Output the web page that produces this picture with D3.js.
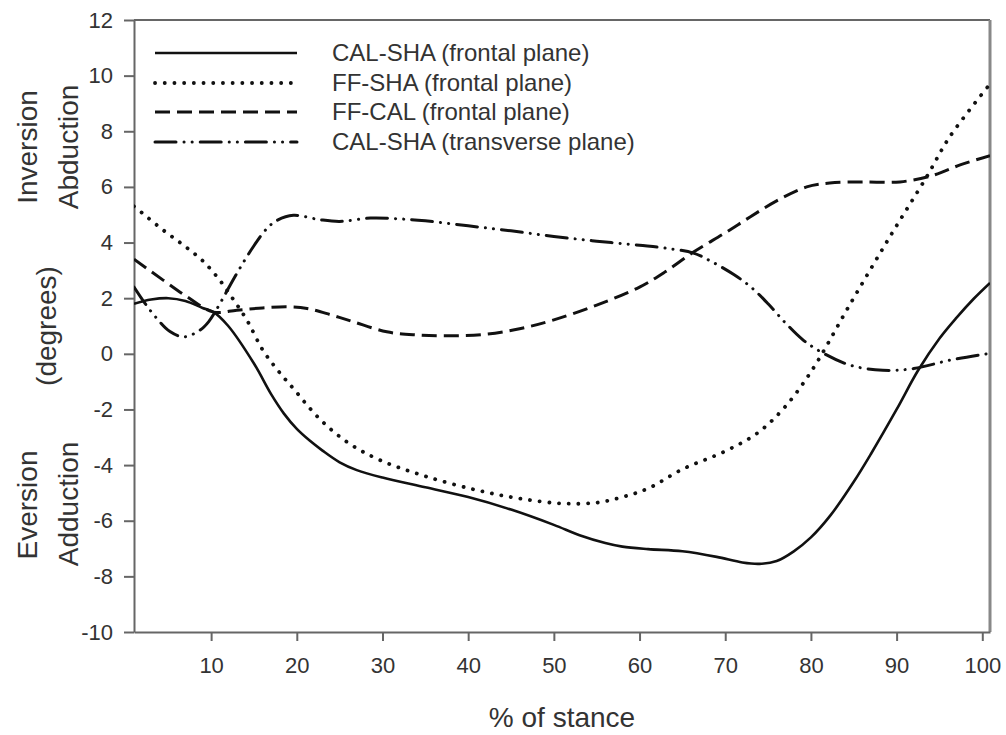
<!DOCTYPE html>
<html>
<head>
<meta charset="utf-8">
<script src="https://cdn.jsdelivr.net/npm/d3@7"></script>
<style>
  html, body { margin: 0; padding: 0; background: #fff; }
  svg { display: block; font-family: "Liberation Sans", Arial, sans-serif; }
</style>
</head>
<body>
<svg id="chart" width="1006" height="735"></svg>
<script>
// ---- Data ----
const xTicks = [10, 20, 30, 40, 50, 60, 70, 80, 90, 100];
const yTicks = [-10, -8, -6, -4, -2, 0, 2, 4, 6, 8, 10, 12];

const calShaFrontal = [
  [1, 1.8], [3, 1.95], [5, 2.0], [7, 1.9], [9, 1.65], [10.3, 1.5], [12, 1.0], [15, -0.35],
  [17, -1.45], [18.5, -2.15], [20, -2.7], [21.5, -3.12], [23, -3.48], [25, -3.9], [27, -4.18],
  [30, -4.45], [35, -4.8],
  [40, -5.15], [45, -5.6], [50, -6.15], [53, -6.52], [56, -6.8], [58, -6.93], [61, -7.02], [65, -7.1],
  [69, -7.3], [72, -7.5], [74, -7.55], [76, -7.45], [78, -7.1], [80, -6.6], [82.3, -5.8],
  [85, -4.6], [87, -3.6], [90, -2.0], [92.5, -0.6], [95, 0.55], [97, 1.3], [99, 1.98], [100.9, 2.55]
];
const ffShaFrontal = [
  [1, 5.3], [2, 5.05], [4.4, 4.45], [6.8, 3.9], [9, 3.35], [11, 2.65], [12.6, 1.95], [14.2, 1.2],
  [16, 0.15], [17.8, -0.6], [19.6, -1.25], [22.7, -2.35], [26, -3.2], [29.7, -3.82], [35, -4.4],
  [41, -4.9], [46, -5.2], [51, -5.38], [55, -5.35], [58, -5.15], [61, -4.84], [65, -4.15],
  [70, -3.5], [73.7, -2.86], [76.8, -1.97], [80, -0.65], [84.6, 1.8], [89.2, 4.2], [93.5, 6.36],
  [96.2, 7.8], [100.9, 9.7]
];
const ffCalFrontal = [
  [1, 3.4], [4.4, 2.65], [7.2, 2.05], [10.3, 1.5], [13, 1.57], [16, 1.65], [19, 1.69], [21.2, 1.63],
  [24, 1.4], [26.6, 1.15], [30.5, 0.79], [34, 0.68], [38, 0.65], [42, 0.7], [46, 0.9], [50, 1.22],
  [55, 1.75], [60, 2.4], [63, 2.95], [66.3, 3.66], [70, 4.35], [72.9, 4.92], [76, 5.5], [79.5, 6.0],
  [82.2, 6.14], [86, 6.18], [90.4, 6.18], [94.3, 6.42], [97.5, 6.8], [100.9, 7.12]
];
const calShaTransverse = [
  [1, 2.4], [2.2, 1.85], [3.5, 1.33], [5.2, 0.8], [6.8, 0.61], [8.7, 0.85], [9.7, 1.15], [10.7, 1.63],
  [13, 2.89], [14.9, 3.84], [16.5, 4.5], [17.7, 4.8], [19.6, 4.98], [22.7, 4.82], [25, 4.76],
  [28.6, 4.88], [32, 4.85], [35, 4.78], [40, 4.6], [45, 4.42], [50, 4.22], [55, 4.05], [60, 3.9],
  [63, 3.8], [66.3, 3.62], [68.5, 3.3], [71, 2.85], [73, 2.4], [75, 1.8], [77, 1.12], [79, 0.52],
  [81, 0.1], [84.6, -0.41], [88.4, -0.59], [92, -0.53], [96.2, -0.23], [100.9, 0.02]
];

const seriesNames = [
  "CAL-SHA (frontal plane)",
  "FF-SHA (frontal plane)",
  "FF-CAL (frontal plane)",
  "CAL-SHA (transverse plane)"
];
const seriesData = [calShaFrontal, ffShaFrontal, ffCalFrontal, calShaTransverse];

// ---- Styles ----
const styles = [
  { dash: null, width: 2.6, cap: "butt" },
  { dash: "0.1 9.6", width: 3.8, cap: "round" },
  { dash: "15 7", width: 3, cap: "butt" },
  { dash: "21 8 0.1 8 0.1 8", width: 3, cap: "round" }
];

const svg = d3.select("#chart");
const mLeft = 134, mRight = 990, mTop = 20, mBottom = 632;

const x = d3.scaleLinear().domain([1, 100.9]).range([mLeft, mRight]);
const y = d3.scaleLinear().domain([-10, 12]).range([mBottom, mTop]);

const axisColor = "#666";
const textColor = "#333";

// Frame top and right
svg.append("line").attr("x1", mLeft).attr("x2", mRight).attr("y1", mTop).attr("y2", mTop)
  .attr("stroke", axisColor).attr("stroke-width", 2);
svg.append("line").attr("x1", mRight).attr("x2", mRight).attr("y1", mTop).attr("y2", mBottom)
  .attr("stroke", "#888").attr("stroke-width", 3);

// Axes
const fmt = d => String(d);
const xAxis = svg.append("g").attr("transform", `translate(0,${mBottom})`)
  .call(d3.axisBottom(x).tickValues(xTicks).tickFormat(fmt).tickSize(9).tickSizeOuter(0).tickPadding(16));
const yAxis = svg.append("g").attr("transform", `translate(${mLeft},0)`)
  .call(d3.axisLeft(y).tickValues(yTicks).tickFormat(fmt).tickSize(10).tickSizeOuter(0).tickPadding(11));

[xAxis, yAxis].forEach(g => {
  g.select(".domain").attr("stroke", axisColor).attr("stroke-width", 2);
  g.selectAll(".tick line").attr("stroke", axisColor).attr("stroke-width", 2);
  g.selectAll(".tick text").attr("fill", textColor)
    .style("font-size", "22px").style("font-family", "'Liberation Sans', Arial, sans-serif");
});

// Lines
svg.append("clipPath").attr("id", "plotclip")
  .append("rect").attr("x", mLeft).attr("y", mTop).attr("width", mRight - mLeft).attr("height", mBottom - mTop);

const line = d3.line().x(d => x(d[0])).y(d => y(d[1])).curve(d3.curveCatmullRom.alpha(0.5));

const plot = svg.append("g").attr("clip-path", "url(#plotclip)");
seriesData.forEach((data, i) => {
  const s = styles[i];
  const p = plot.append("path").datum(data)
    .attr("d", line)
    .attr("fill", "none")
    .attr("stroke", "#111")
    .attr("stroke-width", s.width)
    .attr("stroke-linecap", s.cap)
    .attr("stroke-linejoin", "round");
  if (s.dash) p.attr("stroke-dasharray", s.dash);
});

// Legend
const legendY = [53, 83, 112, 142];
seriesNames.forEach((name, i) => {
  const s = styles[i];
  const l = svg.append("line")
    .attr("x1", 155).attr("x2", 297).attr("y1", legendY[i]).attr("y2", legendY[i])
    .attr("stroke", "#111").attr("stroke-width", s.width).attr("stroke-linecap", s.cap);
  if (s.dash) l.attr("stroke-dasharray", s.dash);
  svg.append("text").attr("x", 332).attr("y", legendY[i]).attr("dy", "0.35em")
    .attr("fill", textColor).style("font-size", "24px").text(name);
});

// Axis titles
svg.append("text").attr("x", 562).attr("y", 727).attr("text-anchor", "middle")
  .attr("fill", textColor).style("font-size", "28px").text("% of stance");

const yTitles = [
  { t: "Inversion", x: 37, y: 147 },
  { t: "Abduction", x: 78, y: 147 },
  { t: "(degrees)", x: 56, y: 326 },
  { t: "Eversion", x: 37, y: 505 },
  { t: "Adduction", x: 78, y: 504 }
];
yTitles.forEach(d => {
  svg.append("text")
    .attr("transform", `translate(${d.x},${d.y}) rotate(-90)`)
    .attr("text-anchor", "middle")
    .attr("fill", textColor).style("font-size", "28px").text(d.t);
});
</script>
</body>
</html>
